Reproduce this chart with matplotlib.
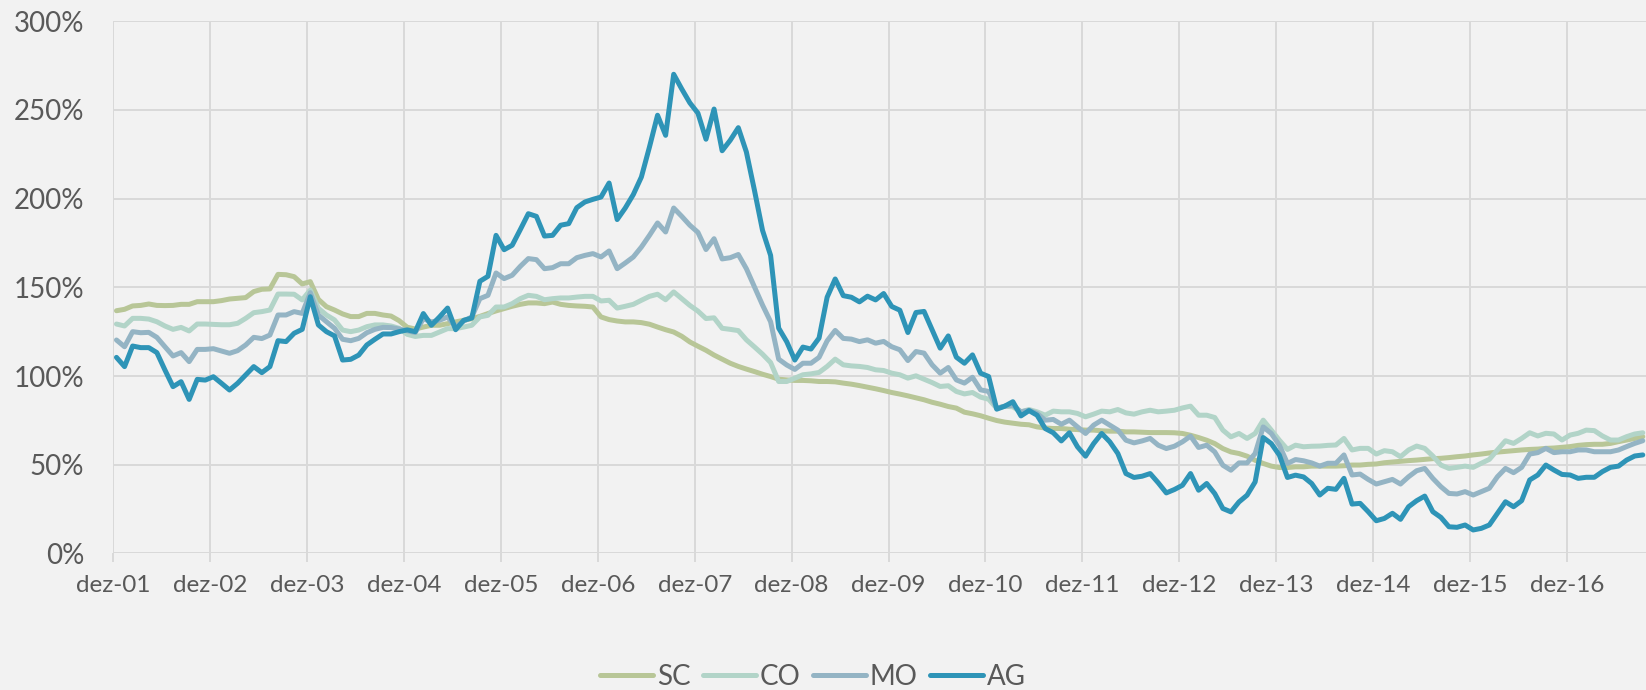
import matplotlib.pyplot as plt
import numpy as np
from matplotlib.ticker import FuncFormatter

# monthly values (%), dez-01 .. set-17
sc = [136.8, 137.6, 139.5, 139.8, 140.6, 139.8, 139.7, 139.8, 140.4, 140.4,
      141.9, 141.9, 141.9, 142.5, 143.4, 143.8, 144.2, 147.6, 148.9, 149.1,
      157.3, 157.1, 156.0, 151.9, 153.2, 143.2, 139.1, 137.2, 135.0, 133.5,
      133.5, 135.3, 135.3, 134.4, 133.8, 131.2, 127.5, 126.5,
      127.6, 128.6, 128.6, 129.5, 130.5, 131.4, 132.3, 133.6, 135.2, 136.7,
      138.0, 139.3, 140.4, 141.2, 141.2, 140.8, 141.7, 140.4, 139.8, 139.5,
      139.3, 138.9, 133.3, 131.8, 131.0, 130.5, 130.5, 130.1, 129.2, 127.6,
      126.1, 124.8, 122.4, 119.2, 116.8, 114.5, 111.8, 109.5,
      107.2, 105.4, 103.9, 102.5, 101.0, 99.7, 98.2, 97.8, 97.5, 97.5,
      97.3, 96.9, 96.9, 96.7, 96.0, 95.4, 94.6, 93.7, 92.8, 91.8,
      90.7, 89.8, 88.8, 87.7, 86.6, 85.2, 84.1, 82.8, 81.9, 79.6,
      78.7, 77.6, 76.2, 74.9, 74.0, 73.4, 72.8, 72.5,
      71.3, 70.7, 70.4, 70.4, 70.0, 69.8, 69.5, 69.5, 69.1, 68.9,
      68.9, 68.5, 68.5, 68.3, 68.1, 68.1, 68.1, 68.0, 67.6, 66.6,
      65.3, 63.8, 61.9, 59.1, 57.2, 56.3, 54.8, 52.5, 50.7, 49.2,
      48.4, 48.4, 48.8, 48.8, 49.2,
      49.2, 49.2, 49.2, 49.4, 49.8, 49.8, 50.2, 50.4, 51.1, 51.5,
      51.9, 52.3, 52.6, 53.0, 53.4, 53.6, 54.0, 54.5, 54.9, 55.5,
      56.0, 56.6, 57.1, 57.5, 57.9, 58.3, 58.6, 58.8, 59.2, 59.4,
      59.8, 60.2, 60.9, 61.3, 61.5, 61.5, 62.0, 63.0, 63.9, 64.8, 65.8]

co = [129.3, 128.2, 132.5, 132.5, 132.1, 130.6, 128.2, 126.3, 127.4, 125.4,
      129.3, 129.3, 129.1, 128.9, 128.9, 129.7, 132.5, 135.7, 136.3, 137.2,
      146.2, 146.2, 146.1, 142.9, 148.5, 138.2, 134.4, 131.6, 125.9, 125.0,
      125.9, 127.8, 128.8, 128.8, 128.2, 126.9, 123.5, 122.3,
      122.9, 122.9, 124.8, 126.7, 126.7, 127.6, 128.6, 133.3, 134.2, 138.9,
      138.9, 140.8, 143.6, 145.5, 144.9, 143.0, 143.6, 144.0, 144.0, 144.5,
      144.9, 144.9, 142.3, 142.7, 138.3, 139.3, 140.4, 142.7, 144.9, 146.1,
      143.0, 147.4, 143.6, 139.8, 136.6, 132.4, 132.8, 126.9,
      126.3, 125.6, 120.4, 116.4, 112.3, 107.6, 96.9, 96.9, 98.8, 100.7,
      101.2, 102.0, 105.4, 109.5, 106.3, 105.7, 105.4, 104.8, 103.5, 103.1,
      101.6, 100.7, 98.8, 100.1, 98.2, 96.3, 94.1, 94.5, 91.3, 89.9,
      90.7, 88.1, 86.9, 81.8, 83.0, 82.6, 79.8, 81.1,
      79.8, 77.9, 80.2, 79.8, 79.8, 78.9, 77.0, 78.5, 80.2, 79.8,
      81.1, 79.2, 78.5, 79.8, 80.7, 79.8, 80.2, 80.7, 82.0, 83.0,
      77.9, 77.9, 76.6, 69.5, 65.7, 67.6, 64.8, 67.6, 75.1, 69.5,
      63.8, 58.6, 61.0, 60.1, 60.4,
      60.5, 60.9, 61.1, 64.8, 58.3, 59.2, 59.2, 56.0, 57.9, 57.3,
      54.5, 58.3, 60.5, 59.2, 54.9, 49.8, 47.9, 48.5, 49.2, 48.5,
      50.8, 53.0, 58.3, 63.5, 62.0, 64.8, 68.0, 66.2, 67.7, 67.3,
      63.9, 66.7, 67.7, 69.5, 69.2, 66.2, 63.9, 63.9, 65.8, 67.3, 68.0]

mo = [120.3, 116.5, 125.0, 124.4, 124.6, 121.8, 116.5, 111.3, 113.2, 108.1,
      115.0, 115.0, 115.4, 114.1, 112.8, 114.3, 117.5, 121.8, 121.1, 123.1,
      134.4, 134.4, 136.3, 135.3, 147.0, 134.4, 130.6, 126.9, 120.7, 119.9,
      121.2, 124.4, 126.3, 127.4, 127.3, 126.5, 125.5, 124.5,
      132.3, 130.5, 131.4, 133.3, 127.6, 131.0, 133.3, 143.6, 145.5, 158.1,
      154.9, 156.8, 161.8, 166.2, 165.6, 160.5, 161.1, 163.3, 163.3, 166.7,
      168.0, 169.0, 167.1, 170.5, 160.5, 163.7, 167.1, 172.7, 179.3, 186.3,
      181.2, 194.7, 190.0, 185.0, 181.0, 171.3, 177.4, 166.0,
      166.7, 168.5, 160.5, 150.3, 140.0, 130.6, 109.5, 106.2, 103.7, 107.2,
      107.2, 110.5, 119.8, 125.7, 121.2, 120.8, 119.4, 120.4, 118.5, 119.5,
      116.5, 114.8, 108.7, 113.8, 112.9, 106.3, 101.6, 104.8, 97.8, 96.0,
      99.3, 92.2, 91.3, 81.8, 83.0, 83.5, 79.8, 80.7,
      78.9, 75.1, 75.5, 72.8, 75.1, 71.3, 67.6, 72.3, 75.1, 72.3,
      69.5, 63.8, 62.3, 63.4, 64.8, 61.0, 59.1, 60.4, 62.9, 66.1,
      59.7, 61.0, 57.2, 49.7, 46.9, 51.0, 51.0, 56.3, 71.3, 67.6,
      61.0, 50.7, 52.9, 52.2, 51.0,
      49.2, 50.8, 50.8, 55.5, 44.2, 44.7, 41.7, 39.1, 40.4, 41.7,
      39.1, 43.2, 46.6, 47.9, 42.3, 37.6, 33.8, 33.5, 34.8, 32.9,
      34.8, 36.7, 43.2, 47.9, 45.5, 48.5, 56.0, 56.8, 59.2, 56.8,
      57.3, 57.3, 58.3, 58.3, 57.3, 57.3, 57.3, 58.3, 60.2, 62.0, 63.5]

ag = [110.5, 105.3, 116.9, 116.0, 116.0, 113.2, 103.4, 94.0, 96.8, 86.8,
      98.1, 97.7, 99.6, 95.9, 92.1, 95.9, 100.6, 105.3, 101.9, 105.3,
      119.9, 119.4, 124.1, 126.3, 144.7, 128.8, 125.0, 122.6, 109.0, 109.4,
      111.8, 117.5, 120.7, 123.7, 123.7, 125.0, 126.0, 125.0,
      135.2, 128.6, 133.3, 138.3, 126.1, 131.4, 132.7, 153.4, 156.2, 179.3,
      171.2, 173.7, 182.5, 191.5, 190.0, 178.9, 179.3, 185.0, 185.9, 194.9,
      198.1, 199.6, 200.9, 208.8, 188.2, 194.7, 202.3, 212.2, 229.1, 247.0,
      235.7, 270.1, 261.8, 254.0, 248.2, 233.5, 250.5, 227.0,
      232.9, 240.0, 226.3, 204.7, 182.1, 168.0, 127.0, 119.3, 109.0, 116.3,
      115.2, 121.4, 144.4, 154.7, 145.3, 144.4, 141.8, 145.0, 142.9, 146.5,
      139.2, 137.1, 124.5, 135.8, 136.4, 126.0, 115.7, 122.6, 110.6, 107.2,
      111.9, 101.6, 99.7, 81.3, 83.0, 85.5, 77.5, 80.5,
      77.9, 70.4, 68.0, 63.4, 68.0, 60.1, 54.8, 61.9, 67.6, 62.9,
      56.3, 45.0, 42.8, 43.5, 45.0, 39.8, 34.1, 36.0, 38.4, 45.0,
      35.6, 39.4, 33.7, 25.3, 23.4, 29.0, 32.8, 40.3, 65.3, 61.9,
      55.4, 42.8, 44.1, 43.1, 39.4,
      32.9, 36.7, 36.1, 42.3, 27.8, 28.2, 23.5, 18.4, 19.7, 22.6,
      19.2, 26.3, 29.7, 32.3, 23.5, 20.3, 15.0, 14.7, 16.0, 13.2,
      14.1, 16.0, 22.6, 29.1, 26.3, 29.7, 41.4, 44.2, 49.8, 47.0,
      44.5, 44.2, 42.3, 42.9, 42.9, 46.1, 48.5, 49.2, 52.6, 54.9, 55.5]

tick_labels = ['dez-01', 'dez-02', 'dez-03', 'dez-04', 'dez-05', 'dez-06',
               'dez-07', 'dez-08', 'dez-09', 'dez-10', 'dez-11', 'dez-12',
               'dez-13', 'dez-14', 'dez-15', 'dez-16']

plt.rcParams['font.family'] = ['Lato', 'DejaVu Sans']

bg = '#f2f2f2'
grid_c = '#d9d9d9'
text_c = '#595959'

fig = plt.figure(figsize=(16.46, 6.9), dpi=100, facecolor=bg)
ax = fig.add_axes([0.0688, 0.198, 0.9312, 0.7712], facecolor=bg)

x = np.arange(len(ag))
style = dict(lw=3.6, solid_capstyle='round', solid_joinstyle='round')
ax.plot(x, sc, color='#b8c697', label='SC', **style)
ax.plot(x, co, color='#b2d4c8', label='CO', **style)
ax.plot(x, mo, color='#94b4c4', label='MO', **style)
ax.plot(x, ag, color='#2e94b7', label='AG', **style)

ax.set_xlim(-0.4, 189.4)
ax.set_ylim(0, 300)
ax.set_yticks(range(0, 301, 50))
ax.yaxis.set_major_formatter(FuncFormatter(lambda v, p: f'{v:.0f}%'))
ax.set_xticks(np.arange(0, 181, 12) - 0.4)
ax.set_xticklabels(tick_labels)

for s in ax.spines.values():
    s.set_visible(False)
ax.grid(True, color=grid_c, lw=1.4)
ax.set_axisbelow(True)
ax.tick_params(axis='x', length=6.5, width=1.4, color=grid_c, pad=9,
               labelsize=17.5, labelcolor=text_c)
ax.tick_params(axis='y', length=0, pad=21, labelsize=20, labelcolor=text_c)

fig.legend(loc='center', bbox_to_anchor=(813 / 1646, 1 - 677 / 690), ncol=4,
           frameon=False, fontsize=20, labelcolor=text_c, handlelength=1.9,
           handletextpad=0.15, columnspacing=0.45)

fig.savefig('out.png', dpi=100, facecolor=bg)
